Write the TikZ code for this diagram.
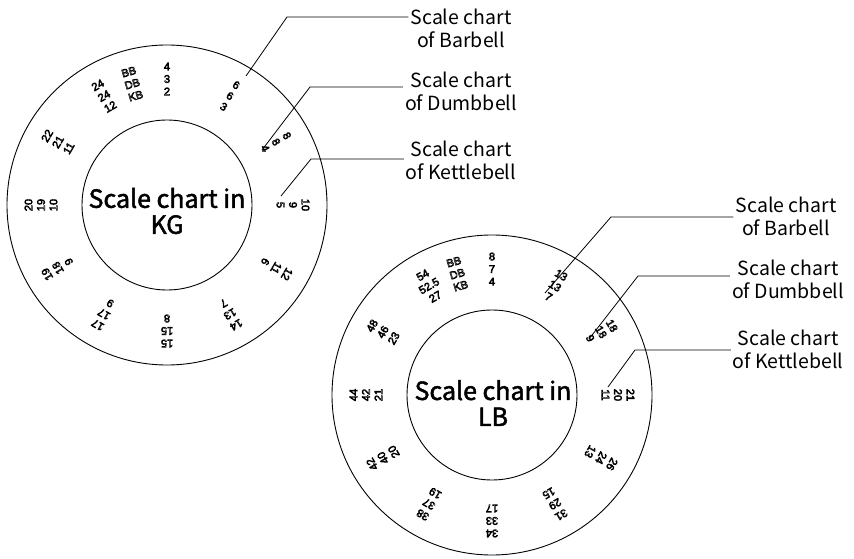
\documentclass[tikz,border=0pt]{standalone}
\usepackage{fontspec}
\setmainfont{Noto Sans CJK SC}
\newfontfamily\ringfont{Liberation Sans}
\newcommand{\hollowtext}{\special{pdf:literal direct 1 Tr 0.55 w}}
\newcommand{\heavytext}{\special{pdf:literal direct 2 Tr 0.45 w}}
\newcommand{\plaintext}{\special{pdf:literal direct 0 Tr}}
\begin{document}
\begin{tikzpicture}[x=1pt,y=1pt,
    ring/.style={line width=0.9pt},
    leader/.style={line width=0.8pt},
    callout/.style={align=center,inner sep=2pt,font=\fontsize{19.5}{23}\selectfont},
    hub/.style={align=center,inner sep=0pt,font=\fontsize{25}{26}\selectfont\heavytext,execute at end node=\plaintext},
    numgrp/.style={align=center,inner sep=0pt,font=\ringfont\fontsize{11}{12.5}\selectfont\hollowtext,execute at end node=\plaintext}]

  \useasboundingbox[fill=white] (0,0) rectangle (854,558);

  \coordinate (kg) at (167,353);
  \coordinate (lb) at (492,163);

  \draw[ring] (kg) circle (160);
  \draw[ring] (kg) circle (85);
  \draw[ring] (lb) circle (160);
  \draw[ring] (lb) circle (85);

  \node[hub] (kgt) at (167,347) {Scale chart in\\KG};
  \node[hub] (lbt) at (493,155) {Scale chart in\\LB};

  \foreach \a/\t [count=\i] in {90/{4\\3\\2}, 60/{6\\6\\3}, 30/{8\\8\\4}, 0/{10\\9\\5},
      -30/{12\\11\\6}, -60/{14\\13\\7}, -90/{15\\15\\8}, -120/{17\\17\\9},
      -150/{19\\18\\9}, 180/{20\\19\\10}, 150/{22\\21\\11}, 120/{24\\24\\12}, 106/{BB\\DB\\KB}}
    \path (kg) ++(\a:126) node[numgrp,rotate=\a-90] (kgn\i) {\t};

  \foreach \a/\t [count=\i] in {90/{8\\7\\4}, 60/{13\\13\\7}, 30/{18\\18\\9}, 0/{21\\20\\11},
      -30/{26\\24\\13}, -60/{31\\29\\15}, -90/{34\\33\\17}, -120/{38\\37\\19},
      -150/{42\\40\\20}, 180/{44\\42\\21}, 150/{48\\46\\23}, 120/{54\\52.5\\27}, 106/{BB\\DB\\KB}}
    \path (lb) ++(\a:126) node[numgrp,rotate=\a-90] (lbn\i) {\t};

  \begin{scope}[every node/.style={callout}]
    \node (kgbb) at (461,530) {Scale chart\\of Barbell};
    \node (kgdb) at (461,467) {Scale chart\\of Dumbbell};
    \node (kgkb) at (461,398) {Scale chart\\of Kettlebell};
    \node (lbbb) at (786,342) {Scale chart\\of Barbell};
    \node (lbdb) at (788,279) {Scale chart\\of Dumbbell};
    \node (lbkb) at (788,209) {Scale chart\\of Kettlebell};
  \end{scope}

  \coordinate (kgbbc) at (287,541);
  \coordinate (kgbbe) at (246,482);
  \coordinate (kgdbc) at (310,471);
  \coordinate (kgdbe) at (262,408);
  \coordinate (kgkbc) at (311,399);
  \coordinate (kgkbe) at (281,362);
  \coordinate (lbbbc) at (611,341);
  \coordinate (lbbbe) at (545,265);
  \coordinate (lbdbc) at (638,282);
  \coordinate (lbdbe) at (589,219);
  \coordinate (lbkbc) at (635,208);
  \coordinate (lbkbe) at (608,171);

  \begin{scope}[every path/.style={leader}]
    \draw (kgbb.west |- kgbbc) -- (kgbbc) -- (kgbbe);
    \draw (kgdb.west |- kgdbc) -- (kgdbc) -- (kgdbe);
    \draw (kgkb.west |- kgkbc) -- (kgkbc) -- (kgkbe);
    \draw (lbbb.west |- lbbbc) -- (lbbbc) -- (lbbbe);
    \draw (lbdb.west |- lbdbc) -- (lbdbc) -- (lbdbe);
    \draw (lbkb.west |- lbkbc) -- (lbkbc) -- (lbkbe);
  \end{scope}

\end{tikzpicture}
\end{document}
